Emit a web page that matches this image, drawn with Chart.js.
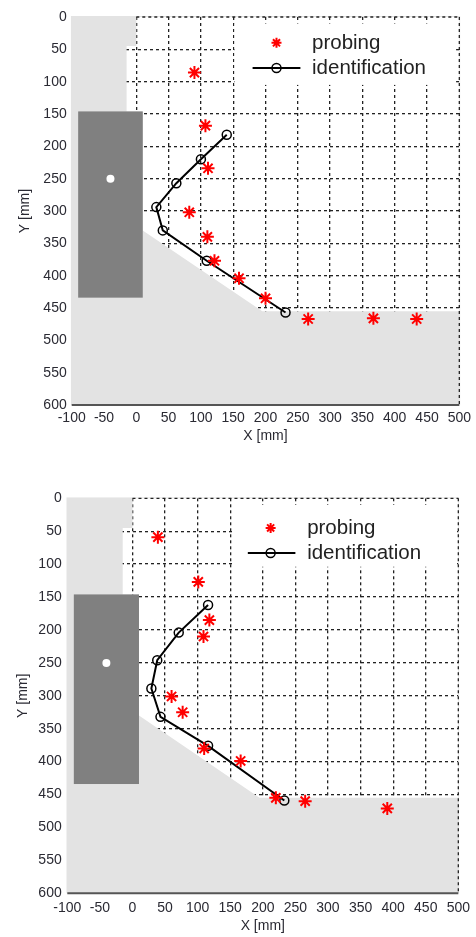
<!DOCTYPE html>
<html lang="en">
<head>
<meta charset="UTF-8">
<title>Probing vs identification</title>
<script src="https://cdn.jsdelivr.net/npm/chart.js"></script>
<style>
  body { margin: 0; background: #fff; }
  .panel { position: relative; width: 476px; }
  canvas { display: block; }
</style>
</head>
<body>
<div class="panel" style="height:480px"><canvas id="topChart" width="476" height="480"></canvas></div>
<div class="panel" style="height:457px"><canvas id="bottomChart" width="476" height="457"></canvas></div>

<script>
// axis ticks (mm)
var xTicks = [-100, -50, 0, 50, 100, 150, 200, 250, 300, 350, 400, 450, 500];
var yTicks = [0, 50, 100, 150, 200, 250, 300, 350, 400, 450, 500, 550, 600];

// free (white) part of the workspace, everything else is grey
var freeX = [0, 500, 500, 195, 10, 10, -15, -15, 0];
var freeY = [0, 0, 455, 455, 330, 146, 146, 45, 45];
// dark block and its peg
var blockX = [-90, 10];
var blockY = [146, 434];
var pegX = -40;
var pegY = 250;

// upper run
var probeTopX = [90, 107, 111, 82, 110, 121, 159, 200, 266, 367, 434];
var probeTopY = [86, 168, 234, 302, 340, 377, 404, 435, 467, 466, 467];
var identTopX = [140, 100, 62, 31, 41, 109, 231];
var identTopY = [182, 220, 257, 294, 330, 377, 457];

// lower run
var probeBotX = [39, 101, 118, 109, 60, 77, 110, 166, 220, 265, 391];
var probeBotY = [59, 127, 185, 210, 301, 325, 380, 399, 455, 460, 471];
var identBotX = [116, 71, 38, 29, 43, 116, 233];
var identBotY = [162, 204, 246, 289, 332, 376, 459];

var FONT = "'Liberation Sans', Arial, sans-serif";

function pts(xs, ys) {
    return xs.map(function (x, i) { return { x: x, y: ys[i] }; });
}

// grey areas, block, frame lines - drawn over the grid, under the data
var workspace = {
    id: 'workspace',
    beforeDatasetsDraw: function (chart) {
        var ctx = chart.ctx, a = chart.chartArea;
        var sx = chart.scales.x, sy = chart.scales.y;
        var X = function (v) { return sx.getPixelForValue(v); };
        var Y = function (v) { return sy.getPixelForValue(v); };

        ctx.save();
        ctx.beginPath();
        ctx.rect(a.left - 1, a.top - 1, a.right - a.left + 2, a.bottom - a.top + 1);
        ctx.clip();

        ctx.beginPath();
        ctx.rect(a.left - 1, a.top - 1, a.right - a.left + 2, a.bottom - a.top + 2);
        freeX.forEach(function (x, i) {
            if (i === 0) ctx.moveTo(X(x), Y(freeY[i]));
            else ctx.lineTo(X(x), Y(freeY[i]));
        });
        ctx.closePath();
        ctx.fillStyle = '#e3e3e3';
        ctx.fill('evenodd');

        ctx.fillStyle = '#808080';
        ctx.fillRect(X(blockX[0]), Y(blockY[0]), X(blockX[1]) - X(blockX[0]), Y(blockY[1]) - Y(blockY[0]));

        ctx.beginPath();
        ctx.arc(X(pegX), Y(pegY), 4, 0, Math.PI * 2);
        ctx.fillStyle = '#fff';
        ctx.fill();
        ctx.restore();

        // dotted frame: top and right
        ctx.save();
        ctx.strokeStyle = '#222';
        ctx.lineWidth = 1.3;
        ctx.setLineDash([3, 3]);
        ctx.beginPath();
        ctx.moveTo(X(0), a.top);
        ctx.lineTo(a.right, a.top);
        ctx.moveTo(a.right, a.top);
        ctx.lineTo(a.right, a.bottom);
        ctx.stroke();
        // solid x axis
        ctx.setLineDash([]);
        ctx.strokeStyle = '#555';
        ctx.lineWidth = 2;
        ctx.beginPath();
        ctx.moveTo(a.left, a.bottom);
        ctx.lineTo(a.right, a.bottom);
        ctx.stroke();
        ctx.restore();
    }
};

function star(ctx, x, y, r) {
    ctx.beginPath();
    for (var k = 0; k < 4; k++) {
        var t = k * Math.PI / 4;
        ctx.moveTo(x - r * Math.cos(t), y - r * Math.sin(t));
        ctx.lineTo(x + r * Math.cos(t), y + r * Math.sin(t));
    }
    ctx.stroke();
}

// legend box inside the plot (white, hides the grid)
var probeLegend = {
    id: 'probeLegend',
    afterDatasetsDraw: function (chart, args, o) {
        var ctx = chart.ctx;
        var sx = chart.scales.x, sy = chart.scales.y;
        var X = function (v) { return sx.getPixelForValue(v); };
        var Y = function (v) { return sy.getPixelForValue(v); };
        ctx.save();
        ctx.fillStyle = '#fff';
        ctx.fillRect(X(o.box[0]), Y(o.box[2]), X(o.box[1]) - X(o.box[0]), Y(o.box[3]) - Y(o.box[2]));

        ctx.strokeStyle = '#ff0000';
        ctx.lineWidth = 2;
        star(ctx, X(o.markX), Y(o.rows[0]), 5);

        ctx.strokeStyle = '#000';
        ctx.lineWidth = 2;
        ctx.beginPath();
        ctx.moveTo(X(o.line[0]), Y(o.rows[1]));
        ctx.lineTo(X(o.line[1]), Y(o.rows[1]));
        ctx.stroke();
        ctx.lineWidth = 1.5;
        ctx.beginPath();
        ctx.arc(X(o.markX), Y(o.rows[1]), 4.5, 0, Math.PI * 2);
        ctx.stroke();

        ctx.fillStyle = '#222';
        ctx.font = '20.5px ' + FONT;
        ctx.textBaseline = 'middle';
        ctx.textAlign = 'left';
        ctx.fillText('probing', X(o.textX), Y(o.rows[0]));
        ctx.fillText('identification', X(o.textX), Y(o.rows[1]));
        ctx.restore();
    }
};

function makeChart(id, L, probeX, probeY, identX, identY, leg) {
    var tickFont = { family: FONT, size: 14 };
    return new Chart(document.getElementById(id), {
        type: 'scatter',
        data: {
            datasets: [{
                label: 'probing',
                data: pts(probeX, probeY),
                showLine: false,
                pointStyle: 'star',
                pointRadius: 6.5,
                pointBorderColor: '#ff0000',
                pointBorderWidth: 2,
                borderColor: '#ff0000'
            }, {
                label: 'identification',
                data: pts(identX, identY),
                showLine: true,
                borderColor: '#000',
                borderWidth: 2,
                pointStyle: 'circle',
                pointRadius: 4.5,
                pointBackgroundColor: 'rgba(0,0,0,0)',
                pointBorderColor: '#000',
                pointBorderWidth: 1.5
            }]
        },
        options: {
            responsive: false,
            animation: false,
            layout: { padding: { top: L.top, right: 476 - L.right, left: 0, bottom: 0 } },
            plugins: {
                legend: { display: false },
                tooltip: { enabled: false },
                probeLegend: leg
            },
            scales: {
                x: {
                    type: 'linear',
                    min: -100,
                    max: 500,
                    afterBuildTicks: function (s) { s.ticks = xTicks.map(function (v) { return { value: v }; }); },
                    afterFit: function (s) { s.height = L.h - L.bottom; },
                    grid: {
                        drawTicks: false,
                        lineWidth: 1.3,
                        color: function (c) { return (c.tick && (c.tick.value === -100 || c.tick.value === 500)) ? 'rgba(0,0,0,0)' : '#222'; }
                    },
                    border: { display: false, dash: [3, 3] },
                    ticks: { color: '#2a2a33', font: tickFont, padding: L.xPad, maxRotation: 0, autoSkip: false },
                    title: { display: true, text: 'X [mm]', color: '#2a2a33', font: tickFont, padding: { top: 0, bottom: L.xTitle } }
                },
                y: {
                    type: 'linear',
                    reverse: true,
                    min: 0,
                    max: 600,
                    afterBuildTicks: function (s) { s.ticks = yTicks.map(function (v) { return { value: v }; }); },
                    afterFit: function (s) { s.width = L.left; },
                    grid: {
                        drawTicks: false,
                        lineWidth: 1.3,
                        color: function (c) { return (c.tick && (c.tick.value === 0 || c.tick.value === 600)) ? 'rgba(0,0,0,0)' : '#222'; }
                    },
                    border: { display: false, dash: [3, 3] },
                    ticks: { color: '#2a2a33', font: tickFont, padding: L.yPad, autoSkip: false },
                    title: { display: true, text: 'Y [mm]', color: '#2a2a33', font: tickFont, padding: { top: L.yTitle, bottom: 0 } }
                }
            }
        },
        plugins: [workspace, probeLegend]
    });
}

makeChart('topChart',
    { h: 480, left: 71.7, right: 460, top: 17, bottom: 405, xPad: 5, yPad: 5, xTitle: 35, yTitle: 16.5 },
    probeTopX, probeTopY, identTopX, identTopY,
    { box: [152, 495, 10, 105], markX: 217, line: [180, 254], textX: 272, rows: [40, 79] });

makeChart('bottomChart',
    { h: 457, left: 67.3, right: 463.3, top: 18.3, bottom: 413.3, xPad: 6, yPad: 5.6, xTitle: 2, yTitle: 14.5 },
    probeBotX, probeBotY, identBotX, identBotY,
    { box: [154, 495, 10, 104], markX: 212, line: [177, 250], textX: 268, rows: [45, 83] });
</script>
</body>
</html>
